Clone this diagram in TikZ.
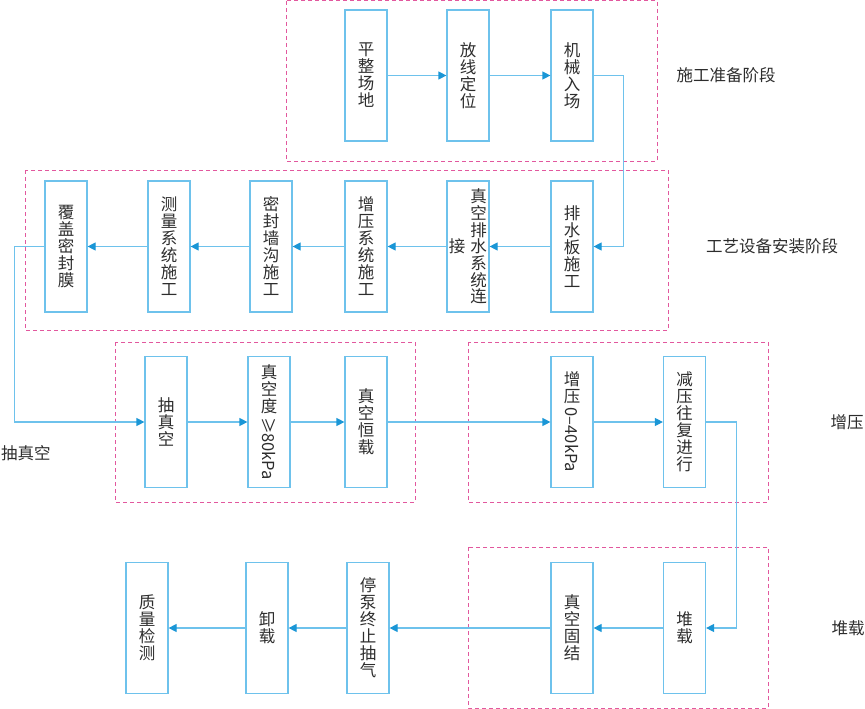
\documentclass[tikz,border=0pt]{standalone}
\usepackage{fontspec}
\setmainfont{Noto Sans CJK SC}
\usepackage{graphicx}
\usetikzlibrary{positioning, arrows.meta}
\definecolor{boxblue}{RGB}{110,194,236}
\definecolor{tipblue}{RGB}{26,150,214}
\definecolor{stagepink}{RGB}{226,88,158}
\definecolor{txtgray}{RGB}{45,45,45}

\begin{document}
\begin{tikzpicture}[x=1pt, y=-1pt, on grid, node distance=102pt,
    stepbox/.style={draw=boxblue, line width=1.2pt, minimum width=42pt, minimum height=131pt,
        inner sep=0pt, align=center, text=txtgray, font=\fontsize{16.5}{17}\selectfont},
    boxtext/.style={inner sep=0pt, align=center, text=txtgray, font=\fontsize{16.5}{16.7}\selectfont},
    flow/.style={draw=boxblue, line width=1.2pt, -{Triangle[length=8pt, width=8pt, color=tipblue]}},
    stage/.style={draw=stagepink, line width=1pt, dash pattern=on 4pt off 3pt},
    phase/.style={text=txtgray, font=\fontsize{16.5}{17}\selectfont}]
    \useasboundingbox (0,0) rectangle (865,709);

    \draw[stage] (286,1) rectangle (657,161);
    \draw[stage] (25,170) rectangle (668,330);
    \draw[stage] (115,342) rectangle (415,502);
    \draw[stage] (468,342) rectangle (768,502);
    \draw[stage] (468,547) rectangle (768,708);

    \node[stepbox] (pz) at (366,75.5) {平\\整\\场\\地};
    \node[stepbox] (fx) [right=of pz] {放\\线\\定\\位};
    \node[stepbox] (jx) [right=104pt of fx] {机\\械\\入\\场};

    \node[stepbox] (ps) at (572,246.5) {排\\水\\板\\施\\工};
    \node[stepbox] (pl) [left=104pt of ps] {};
    \node[boxtext] (plr) at ([xshift=10.5pt]pl.center) {真\\空\\排\\水\\系\\统\\连};
    \node[boxtext] (pll) at ([xshift=-11pt]pl.center) {接};
    \node[stepbox] (zx) [left=of pl] {增\\压\\系\\统\\施\\工};
    \node[stepbox] (mf) [left=95pt of zx] {密\\封\\墙\\沟\\施\\工};
    \node[stepbox] (cl) [left=of mf] {测\\量\\系\\统\\施\\工};
    \node[stepbox] (fm) [left=103pt of cl] {覆\\盖\\密\\封\\膜};

    \node[stepbox] (cz) at (166,422) {抽\\真\\空};
    \node[stepbox] (zd) [right=103pt of cz] {真\\空\\度\\[-12pt]\rotatebox{-90}{≥80kPa}};
    \node[stepbox] (hz) [right=97pt of zd] {真\\空\\恒\\载};
    \node[stepbox] (zy) at (572,422) {增\\压\\[-12pt]\rotatebox{-90}{0–40kPa}};
    \node[stepbox] (jy) [right=112.5pt of zy] {减\\压\\往\\复\\进\\行};

    \node[stepbox] (dz) at (684.5,628) {堆\\载};
    \node[stepbox] (gj) at (572,628) {真\\空\\固\\结};
    \node[stepbox] (tb) [left=204pt of gj] {停\\泵\\终\\止\\抽\\气};
    \node[stepbox] (xz) [left=101pt of tb] {卸\\载};
    \node[stepbox] (zl) [left=120pt of xz] {质\\量\\检\\测};

    \node[phase] (l1) at (726,75) {施工准备阶段};
    \node[phase] (l2) at (772,246) {工艺设备安装阶段};
    \node[phase] (l3) at (26,453) {抽真空};
    \node[phase] (l4) at (847,422) {增压};
    \node[phase] (l5) at (848,628) {堆载};

    \path[flow]
    (pz) edge (fx)
    (fx) edge (jx)
    (ps) edge (pl)
    (pl) edge (zx)
    (zx) edge (mf)
    (mf) edge (cl)
    (cl) edge (fm)
    (cz) edge (zd)
    (zd) edge (hz)
    (hz) edge (zy)
    (zy) edge (jy)
    (dz) edge (gj)
    (gj) edge (tb)
    (tb) edge (xz)
    (xz) edge (zl);

    \draw[flow] (jx.east) -- ++(30,0) |- (ps.east);
    \draw[flow] (fm.west) -- ++(-30,0) |- (cz.west);
    \draw[flow] (jy.east) -- ++(30,0) |- (dz.east);
\end{tikzpicture}
\end{document}
